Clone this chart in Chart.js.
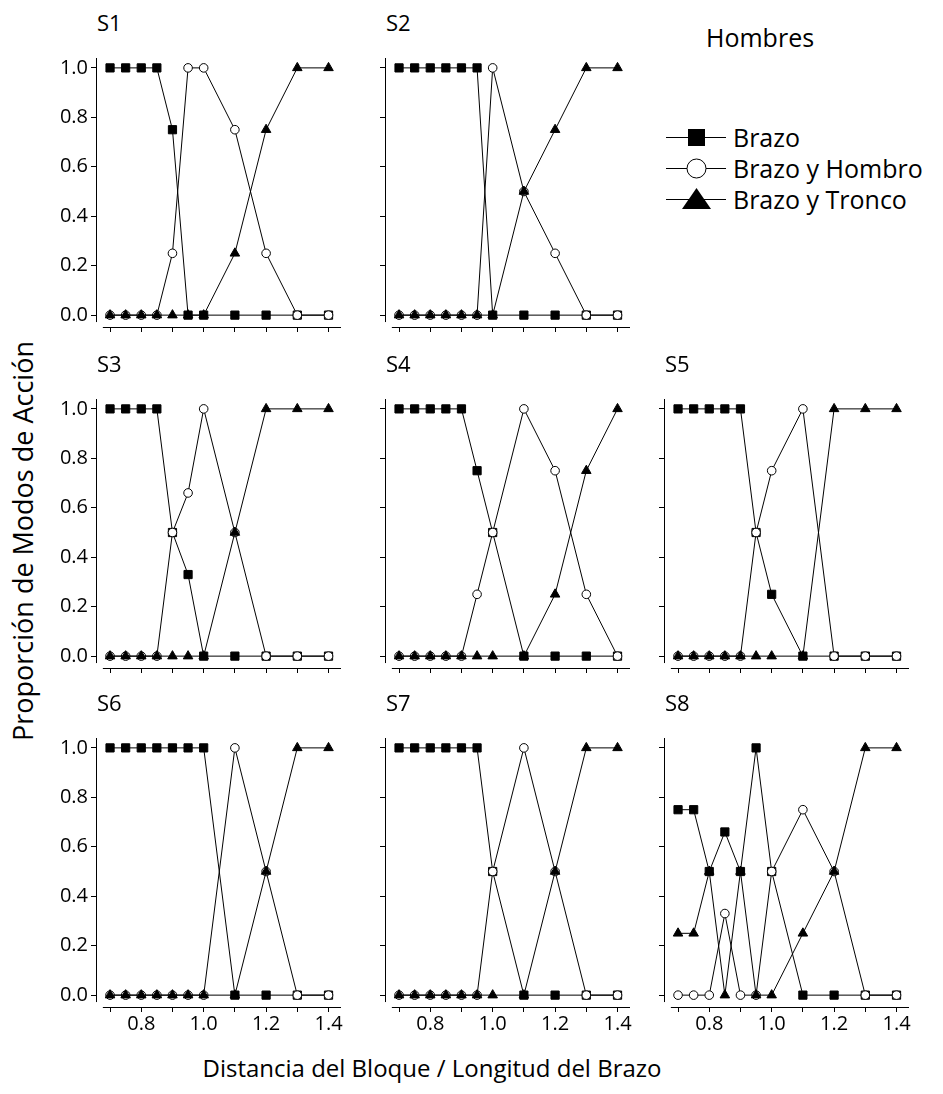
<!DOCTYPE html>
<html>
<head>
<meta charset="utf-8">
<script src="https://cdn.jsdelivr.net/npm/chart.js@4.4.1/dist/chart.umd.min.js"></script>
<style>
body{margin:0;background:#fff;color:#000;font-family:"Open Sans",sans-serif;}
#wrap{position:relative;width:943px;height:1094px;overflow:hidden;background:#fff;}
.panel{position:absolute;width:305px;height:319px;}
.ttl{position:absolute;font-size:22px;line-height:22px;}
#hombres{position:absolute;left:706px;top:23px;font-size:25px;line-height:28px;}
#leyenda{position:absolute;left:666px;top:121px;font-size:25px;}
#leyenda .item{height:31px;display:flex;align-items:center;}
#leyenda svg{display:block;margin-right:7px;}
#ytitulo{position:absolute;left:22px;top:541px;font-size:27px;white-space:nowrap;transform:translate(-50%,-50%) rotate(-90deg);}
#xtitulo{position:absolute;left:432px;top:1067px;font-size:24px;white-space:nowrap;transform:translate(-50%,-50%);}
</style>
</head>
<body>
<div id="wrap">
  <div id="hombres">Hombres</div>
  <div id="leyenda">
    <div class="item"><svg width="60" height="30"><line x1="0" y1="15.5" x2="60" y2="15.5" stroke="#000" stroke-width="1"/><rect x="22" y="7" width="17" height="17" fill="#000"/></svg><span>Brazo</span></div>
    <div class="item"><svg width="60" height="30"><line x1="0" y1="15.5" x2="60" y2="15.5" stroke="#000" stroke-width="1"/><circle cx="30.5" cy="15.5" r="9.5" fill="#fff" stroke="#000" stroke-width="1"/></svg><span>Brazo y Hombro</span></div>
    <div class="item"><svg width="60" height="30"><line x1="0" y1="15.5" x2="60" y2="15.5" stroke="#000" stroke-width="1"/><polygon points="16,25 45,25 30.5,4" fill="#000"/></svg><span>Brazo y Tronco</span></div>
  </div>
  <div id="ytitulo">Proporción de Modos de Acción</div>
  <div id="xtitulo">Distancia del Bloque / Longitud del Brazo</div>
</div>
<script>
// distancias (x) comunes a todos los sujetos
var distancias = [0.7, 0.75, 0.8, 0.85, 0.9, 0.95, 1.0, 1.1, 1.2, 1.3, 1.4];
var sujetos = ['S1', 'S2', 'S3', 'S4', 'S5', 'S6', 'S7', 'S8'];
var ticksX = [0.7, 0.8, 0.9, 1.0, 1.1, 1.2, 1.3, 1.4];
var etiquetasX = ['0.8', '1.0', '1.2', '1.4'];
var ticksY = [0, 0.2, 0.4, 0.6, 0.8, 1.0];

// Brazo
var brazo = [
  [1, 1, 1, 1, 0.75, 0, 0, 0, 0, 0, 0],
  [1, 1, 1, 1, 1, 1, 0, 0, 0, 0, 0],
  [1, 1, 1, 1, 0.5, 0.33, 0, 0, 0, 0, 0],
  [1, 1, 1, 1, 1, 0.75, 0.5, 0, 0, 0, 0],
  [1, 1, 1, 1, 1, 0.5, 0.25, 0, 0, 0, 0],
  [1, 1, 1, 1, 1, 1, 1, 0, 0, 0, 0],
  [1, 1, 1, 1, 1, 1, 0.5, 0, 0, 0, 0],
  [0.75, 0.75, 0.5, 0.66, 0.5, 1, 0.5, 0, 0, 0, 0]
];
// Brazo y Hombro
var brazoHombro = [
  [0, 0, 0, 0, 0.25, 1, 1, 0.75, 0.25, 0, 0],
  [0, 0, 0, 0, 0, 0, 1, 0.5, 0.25, 0, 0],
  [0, 0, 0, 0, 0.5, 0.66, 1, 0.5, 0, 0, 0],
  [0, 0, 0, 0, 0, 0.25, 0.5, 1, 0.75, 0.25, 0],
  [0, 0, 0, 0, 0, 0.5, 0.75, 1, 0, 0, 0],
  [0, 0, 0, 0, 0, 0, 0, 1, 0.5, 0, 0],
  [0, 0, 0, 0, 0, 0, 0.5, 1, 0.5, 0, 0],
  [0, 0, 0, 0.33, 0, 0, 0.5, 0.75, 0.5, 0, 0]
];
// Brazo y Tronco
var brazoTronco = [
  [0, 0, 0, 0, 0, 0, 0, 0.25, 0.75, 1, 1],
  [0, 0, 0, 0, 0, 0, 0, 0.5, 0.75, 1, 1],
  [0, 0, 0, 0, 0, 0, 0, 0.5, 1, 1, 1],
  [0, 0, 0, 0, 0, 0, 0, 0, 0.25, 0.75, 1],
  [0, 0, 0, 0, 0, 0, 0, 0, 1, 1, 1],
  [0, 0, 0, 0, 0, 0, 0, 0, 0.5, 1, 1],
  [0, 0, 0, 0, 0, 0, 0, 0, 0.5, 1, 1],
  [0.25, 0.25, 0.5, 0, 0.5, 0, 0, 0.25, 0.5, 1, 1]
];

Chart.defaults.font.family = '"Open Sans", sans-serif';
Chart.defaults.color = '#000';

// posicion de cada panel: [fila, columna]
var posiciones = [[0, 0], [0, 1], [1, 0], [1, 1], [1, 2], [2, 0], [2, 1], [2, 2]];
var ejeIzq = [96, 385, 664];   // x del eje y de cada columna
var ejeArriba = [53, 394, 733]; // y superior del area de cada fila

// ejes separados estilo Prism
var ejes = {
  id: 'ejes',
  beforeDatasetsDraw: function (chart) {
    var ctx = chart.ctx, a = chart.chartArea;
    var sx = chart.scales.x, sy = chart.scales.y;
    var xl = Math.round(a.left) + 0.5, yb = Math.round(a.bottom) + 0.5;
    ctx.save();
    ctx.strokeStyle = '#000';
    ctx.lineWidth = 1;
    ctx.beginPath();
    ctx.moveTo(xl, a.top);
    ctx.lineTo(xl, sy.getPixelForValue(-0.028));
    ctx.moveTo(sx.getPixelForValue(0.677), yb);
    ctx.lineTo(a.right, yb);
    ctx.stroke();
    ctx.restore();
  }
};

function puntos(vals) {
  return distancias.map(function (d, i) { return { x: d, y: vals[i] }; });
}

function panel(k) {
  var fila = posiciones[k][0], col = posiciones[k][1];
  var wrap = document.getElementById('wrap');

  var t = document.createElement('div');
  t.className = 'ttl';
  t.textContent = sujetos[k];
  t.style.left = (ejeIzq[col] + 1) + 'px';
  t.style.top = (ejeArriba[fila] - 42) + 'px';
  wrap.appendChild(t);

  var div = document.createElement('div');
  div.className = 'panel';
  div.style.left = (ejeIzq[col] - 45) + 'px';
  div.style.top = (ejeArriba[fila] - 10) + 'px';
  var cv = document.createElement('canvas');
  cv.width = 305; cv.height = 319;
  div.appendChild(cv);
  wrap.appendChild(div);

  var conX = fila == 2;
  var conY = col == 0;
  var base = { showLine: true, borderColor: '#000', borderWidth: 1, pointBorderColor: '#000', pointBorderWidth: 1, clip: false };

  new Chart(cv, {
    type: 'scatter',
    data: {
      datasets: [
        Object.assign({}, base, { label: 'Brazo y Tronco', data: puntos(brazoTronco[k]), pointStyle: 'triangle', pointRadius: 5.5, pointBackgroundColor: '#000', order: 0 }),
        Object.assign({}, base, { label: 'Brazo y Hombro', data: puntos(brazoHombro[k]), pointStyle: 'circle', pointRadius: 4.3, pointBackgroundColor: '#fff', order: 1 }),
        Object.assign({}, base, { label: 'Brazo', data: puntos(brazo[k]), pointStyle: 'rect', pointRadius: 5.8, pointBackgroundColor: '#000', order: 2 })
      ]
    },
    options: {
      responsive: false,
      animation: false,
      devicePixelRatio: 1,
      layout: { padding: { top: 10, right: 15, left: 0, bottom: 0 } },
      plugins: { legend: { display: false }, tooltip: { enabled: false } },
      elements: { line: { tension: 0 } },
      scales: {
        x: {
          type: 'linear',
          min: 0.655, max: 1.44,
          afterBuildTicks: function (ax) { ax.ticks = ticksX.map(function (v) { return { value: v }; }); },
          afterFit: function (ax) { ax.height = 35; },
          border: { display: false },
          grid: { drawOnChartArea: false, drawTicks: true, tickLength: 5, color: '#000', lineWidth: 1 },
          ticks: {
            padding: 0, maxRotation: 0, autoSkip: false,
            font: { size: 20 },
            callback: function (v) {
              var s = v.toFixed(1);
              return (conX && etiquetasX.indexOf(s) != -1) ? s : '';
            }
          }
        },
        y: {
          min: -0.048, max: 1.04,
          afterBuildTicks: function (ax) { ax.ticks = ticksY.map(function (v) { return { value: v }; }); },
          afterFit: function (ax) { ax.width = 45; },
          border: { display: false },
          grid: { drawOnChartArea: false, drawTicks: true, tickLength: 5, color: '#000', lineWidth: 1 },
          ticks: {
            padding: 3, autoSkip: false,
            font: { size: 20 },
            callback: function (v) { return conY ? v.toFixed(1) : ''; }
          }
        }
      }
    },
    plugins: [ejes]
  });
}

for (var k = 0; k < sujetos.length; k++) {
  panel(k);
}
</script>
</body>
</html>
